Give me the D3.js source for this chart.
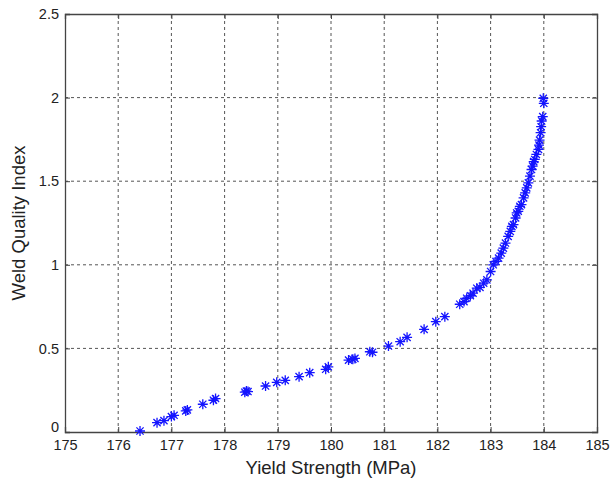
<!DOCTYPE html>
<html>
<head>
<meta charset="utf-8">
<script src="https://cdn.jsdelivr.net/npm/d3@7"></script>
<style>
  body { margin: 0; background: #fff; }
  text { font-family: Arial, "Liberation Sans", sans-serif; fill: #222; }
</style>
</head>
<body>
<svg id="chart" width="611" height="484"></svg>
<script>
// data
var xTicks = [175, 176, 177, 178, 179, 180, 181, 182, 183, 184, 185];
var yTicks = [0, 0.5, 1, 1.5, 2, 2.5];
var yieldStrength = [
  176.41, 176.73, 176.86, 177.0, 177.05, 177.27, 177.3, 177.59, 177.79, 177.83,
  178.38, 178.41, 178.44, 178.77, 178.98, 179.14, 179.40, 179.6, 179.9, 179.95,
  180.33, 180.41, 180.45, 180.73, 180.78, 181.08, 181.3, 181.43, 181.75, 181.97,
  182.14, 182.42, 182.5, 182.55, 182.62, 182.67, 182.74, 182.8, 182.87, 182.93,
  183.0, 183.05, 183.1, 183.15, 183.2, 183.24, 183.28, 183.33, 183.37, 183.4,
  183.43, 183.47, 183.49, 183.52, 183.55, 183.58, 183.62, 183.65, 183.68, 183.71,
  183.74, 183.77, 183.79, 183.81, 183.83, 183.86, 183.9, 183.91, 183.92, 183.94,
  183.95, 183.96, 183.98, 184.0, 183.99
];
var weldQuality = [
  0.006, 0.056, 0.068, 0.092, 0.10, 0.126, 0.132, 0.166, 0.19, 0.20,
  0.238, 0.245, 0.242, 0.275, 0.297, 0.309, 0.331, 0.355, 0.375, 0.39,
  0.43, 0.435, 0.44, 0.48, 0.477, 0.514, 0.54, 0.566, 0.614, 0.66,
  0.69, 0.764, 0.78, 0.80, 0.815, 0.83, 0.86, 0.865, 0.89, 0.91,
  0.96, 1.0, 1.02, 1.04, 1.07, 1.10, 1.13, 1.17, 1.2, 1.23,
  1.24, 1.28, 1.31, 1.32, 1.35, 1.36, 1.40, 1.43, 1.46, 1.49,
  1.53, 1.57, 1.59, 1.617, 1.63, 1.66, 1.69, 1.716, 1.746, 1.79,
  1.826, 1.86, 1.886, 1.966, 1.996
];

var svg = d3.select('#chart'),
  marginLeft = 65,
  marginTop = 14,
  plotRight = 597,
  plotBottom = 432;

var x = d3.scaleLinear().domain([175, 185]).range([marginLeft, plotRight]);
var y = d3.scaleLinear().domain([0, 2.5]).range([plotBottom, marginTop]);

// grid
var grid = svg.append('g');
grid.selectAll('.gx')
  .data(xTicks.slice(1, -1))
  .enter()
  .append('line')
  .attr('x1', function (d) { return x(d); })
  .attr('x2', function (d) { return x(d); })
  .attr('y1', plotBottom)
  .attr('y2', marginTop)
  .attr('stroke', '#555')
  .attr('stroke-width', 1)
  .attr('stroke-dasharray', '3,3');
grid.selectAll('.gy')
  .data(yTicks.slice(1, -1))
  .enter()
  .append('line')
  .attr('y1', function (d) { return y(d); })
  .attr('y2', function (d) { return y(d); })
  .attr('x1', marginLeft)
  .attr('x2', plotRight)
  .attr('stroke', '#555')
  .attr('stroke-width', 1)
  .attr('stroke-dasharray', '3,3');

// axes (ticks inside, like matlab)
var xAxis = svg.append('g')
  .attr('transform', 'translate(0,' + plotBottom + ')')
  .call(d3.axisBottom(x).tickValues(xTicks).tickSize(-5).tickPadding(8).tickFormat(d3.format('d')));
var xAxisTop = svg.append('g')
  .attr('transform', 'translate(0,' + marginTop + ')')
  .call(d3.axisTop(x).tickValues(xTicks).tickSize(-5).tickFormat(''));
var yAxis = svg.append('g')
  .attr('transform', 'translate(' + marginLeft + ',0)')
  .call(d3.axisLeft(y).tickValues(yTicks).tickSize(-5).tickPadding(6).tickFormat(d3.format('')));
var yAxisRight = svg.append('g')
  .attr('transform', 'translate(' + plotRight + ',0)')
  .call(d3.axisRight(y).tickValues(yTicks).tickSize(-5).tickFormat(''));

[xAxis, xAxisTop, yAxis, yAxisRight].forEach(function (a) {
  a.selectAll('path').attr('stroke', '#444').attr('stroke-width', 1.3);
  a.selectAll('line').attr('stroke', '#444');
  a.selectAll('text')
    .style('font-family', 'Arial, "Liberation Sans", sans-serif')
    .style('font-size', '14.5px')
    .attr('fill', '#222');
});
// the zero label sits a little higher, as in the original
yAxis.selectAll('.tick text')
  .filter(function (d) { return d === 0; })
  .attr('dy', '-0.05em');

// asterisk markers
var r = 5, dr = r * 0.72;
var marker = 'M' + (-r) + ',0H' + r + 'M0,' + (-r) + 'V' + r +
  'M' + (-dr) + ',' + (-dr) + 'L' + dr + ',' + dr +
  'M' + (-dr) + ',' + dr + 'L' + dr + ',' + (-dr);

svg.append('g')
  .selectAll('path')
  .data(d3.range(yieldStrength.length))
  .enter()
  .append('path')
  .attr('transform', function (i) {
    return 'translate(' + x(yieldStrength[i]) + ',' + y(weldQuality[i]) + ')';
  })
  .attr('d', marker)
  .attr('fill', 'none')
  .attr('stroke', '#1414ff')
  .attr('stroke-width', 1.3);

// labels
svg.append('text')
  .attr('x', (marginLeft + plotRight) / 2)
  .attr('y', 474)
  .attr('text-anchor', 'middle')
  .style('font-size', '18.5px')
  .text('Yield Strength (MPa)');

svg.append('text')
  .attr('transform', 'translate(25,' + (marginTop + plotBottom) / 2 + ') rotate(-90)')
  .attr('text-anchor', 'middle')
  .style('font-size', '18.5px')
  .text('Weld Quality Index');
</script>
</body>
</html>
